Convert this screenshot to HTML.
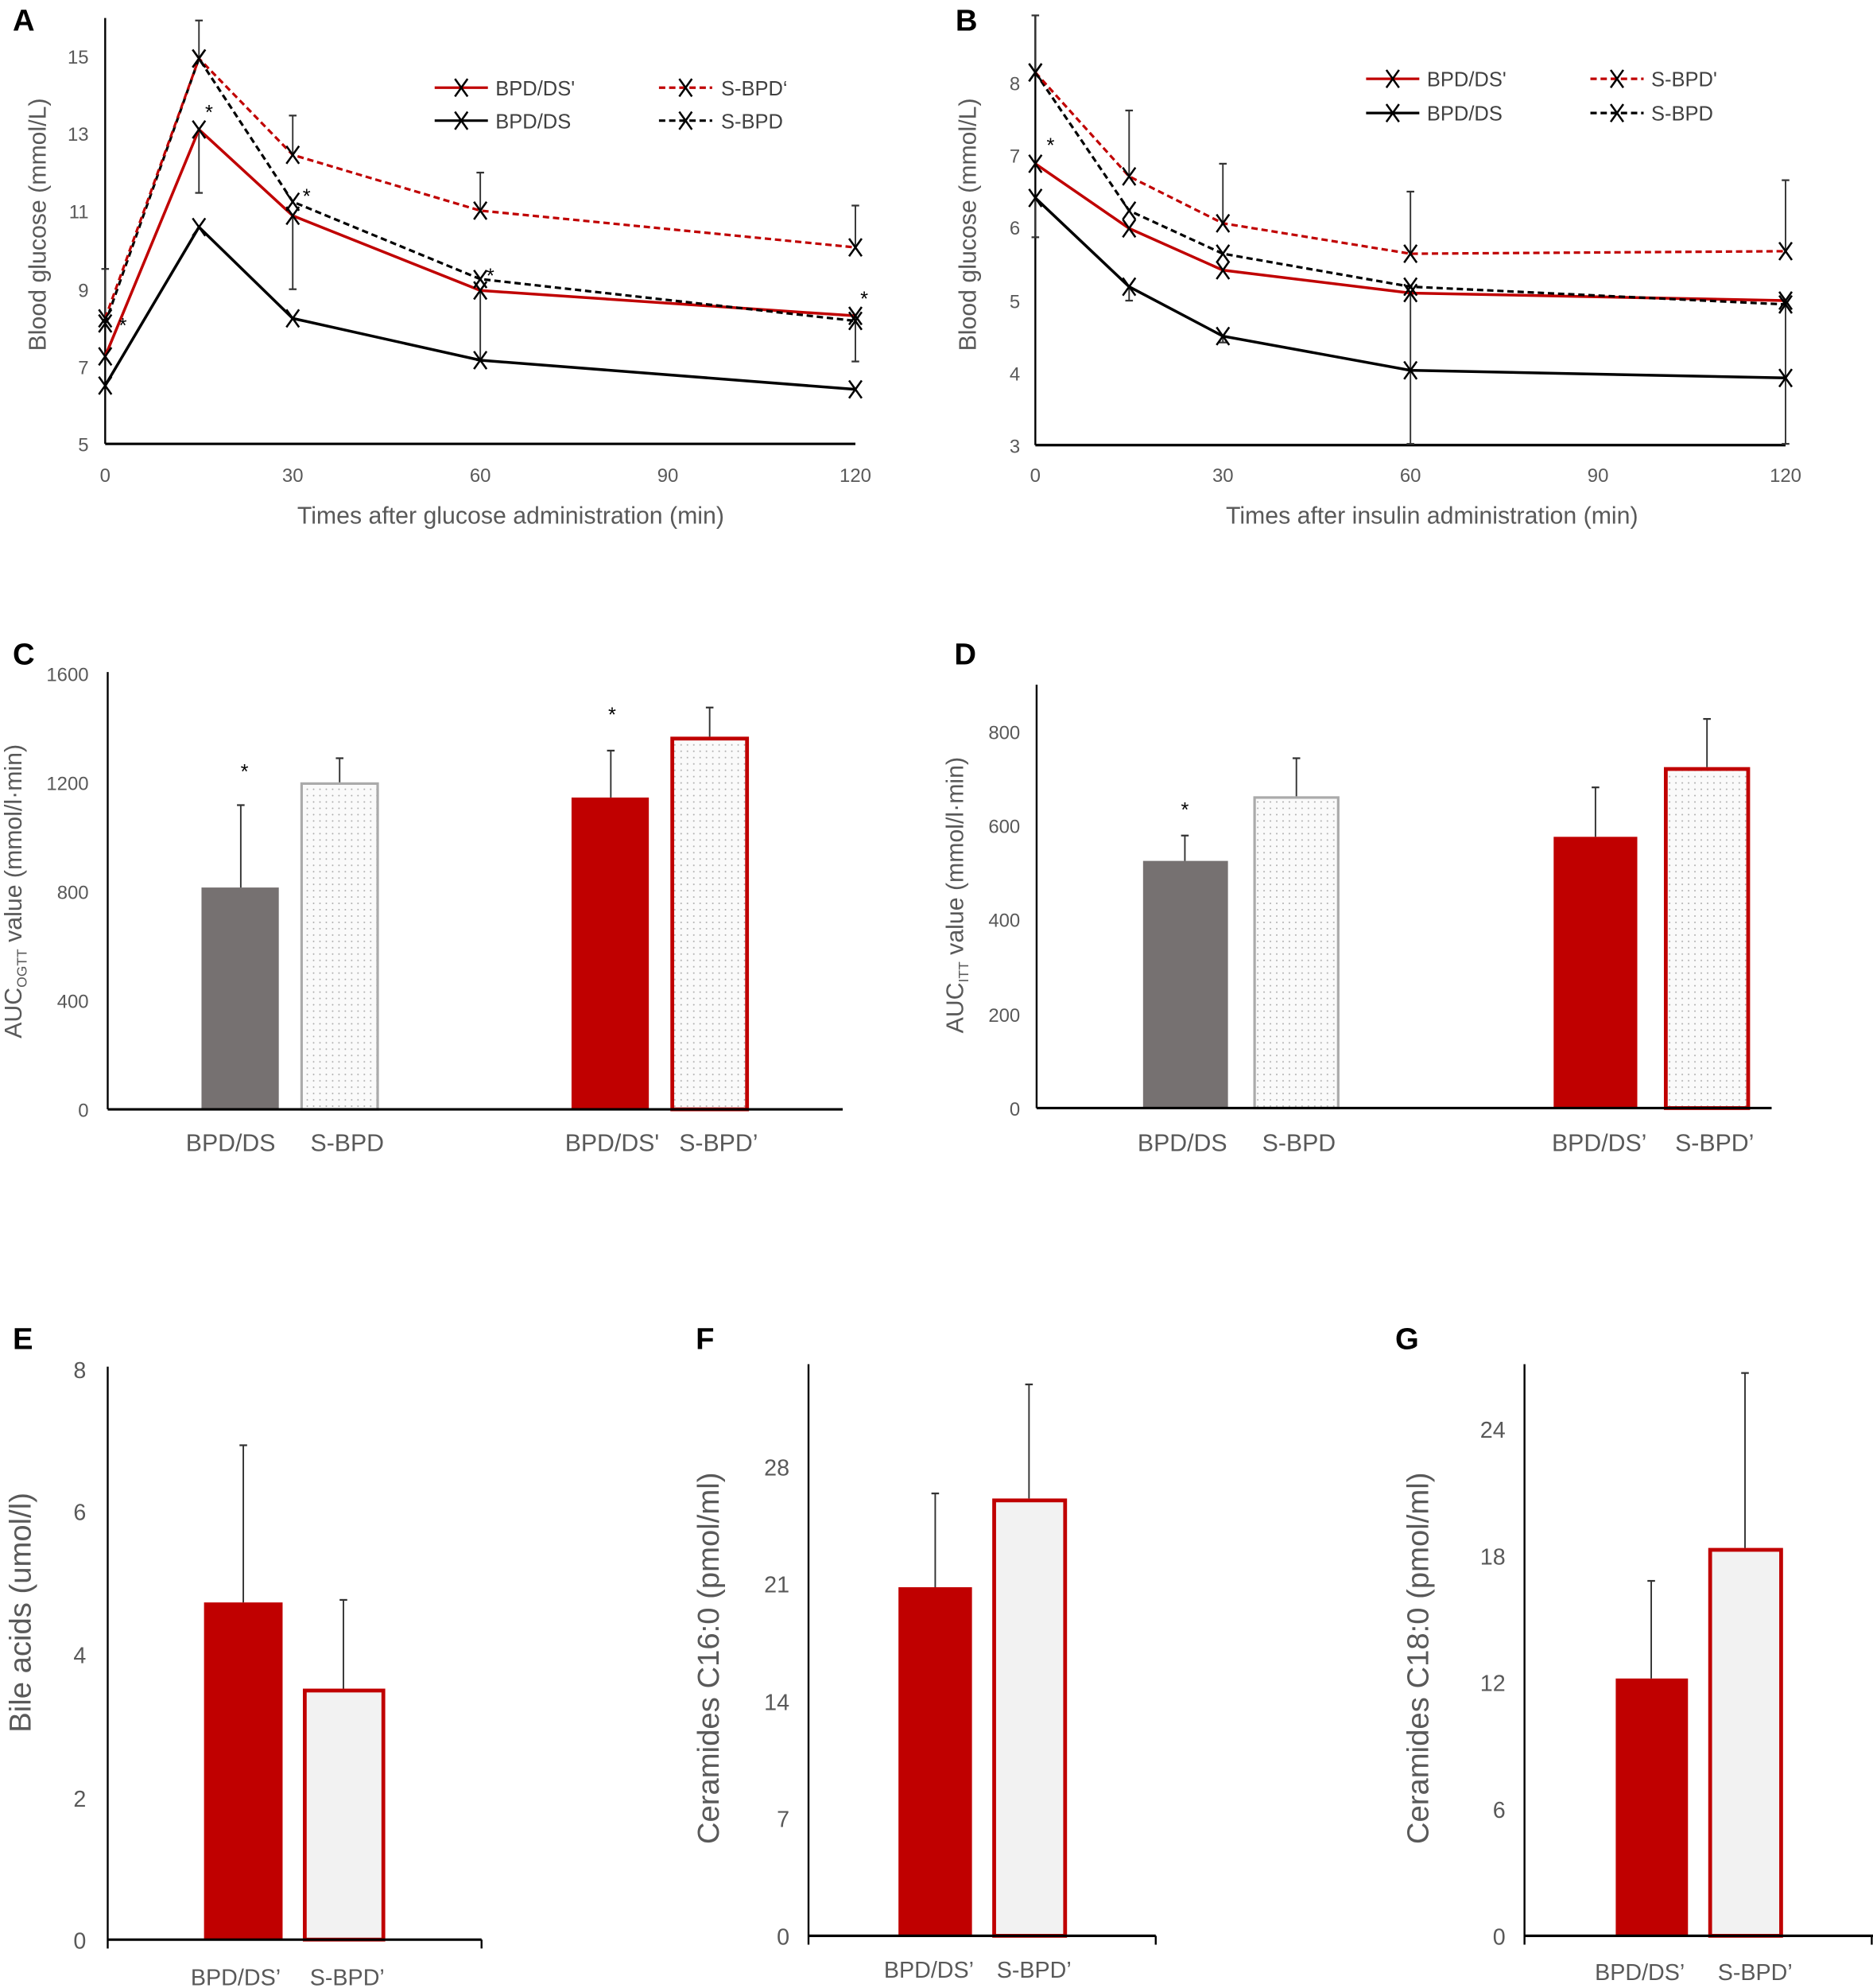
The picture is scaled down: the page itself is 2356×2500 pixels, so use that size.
<!DOCTYPE html>
<html><head><meta charset="utf-8"><style>
html,body{margin:0;padding:0;background:#fff;}
svg{display:block;}
text{font-family:"Liberation Sans",sans-serif;}
.tk{fill:#595959;font-size:15px;}
.tl{fill:#595959;font-size:19px;}
.pl{font-weight:bold;font-size:24px;fill:#000;}
.lg{fill:#404040;font-size:16px;}
</style></head><body>
<svg id="s" width="2356" height="2500" viewBox="0 0 1478 1568" xmlns="http://www.w3.org/2000/svg">
<defs>
<pattern id="dots" width="5" height="5" patternUnits="userSpaceOnUse">
<rect width="5" height="5" fill="#fafafa"/><circle cx="2.5" cy="2.5" r="0.6" fill="#aaa"/>
</pattern>
</defs>
<!-- Panel labels -->
<text class="pl" x="10" y="24">A</text>
<text class="pl" x="754" y="24">B</text>
<text class="pl" x="10" y="524">C</text>
<text class="pl" x="753" y="524">D</text>
<text class="pl" x="10" y="1064">E</text>
<text class="pl" x="549" y="1064">F</text>
<text class="pl" x="1101" y="1064">G</text>
<g id="g"></g>
</svg>
<script>
const g=document.getElementById('g');let h='';
function L(x1,y1,x2,y2,c,w,d){h+=`<line x1="${x1}" y1="${y1}" x2="${x2}" y2="${y2}" stroke="${c||'#000'}" stroke-width="${w||1.5}" ${d?`stroke-dasharray="${d}"`:''}/>`;}
function T(x,y,t,cls,anc,extra){h+=`<text class="${cls}" x="${x}" y="${y}" text-anchor="${anc||'middle'}" ${extra||''}>${t}</text>`;}
function X(x,y){h+=`<path d="M${x-5} ${y-7}L${x+5} ${y+7}M${x-5} ${y+7}L${x+5} ${y-7}" stroke="#000" stroke-width="1.6" fill="none"/>`;}
function EB(x,y1,y2){L(x,y1,x,y2,'#333',1.2);L(x-3,y2,x+3,y2,'#333',1.4);}
function line(xs,ys,c,d){let p=xs.map((x,i)=>x+','+ys[i]).join(' ');h+=`<polyline points="${p}" fill="none" stroke="${c}" stroke-width="${d?2:2.2}" ${d?'stroke-dasharray="5,3"':''}/>`;xs.forEach((x,i)=>X(x,ys[i]));}
// ---------- Panel A ----------
{const x0=83,sx=592/120,xs=[0,15,30,60,120].map(t=>x0+t*sx);
L(83,14,83,350,'#000',1.5);L(83,350,675,350,'#000',2);
[[15,44],[13,105],[11,166],[9,228],[7,289],[5,350]].forEach(([v,y])=>T(70,y+6,v,'tk','end'));
[0,30,60,90,120].forEach(t=>T(x0+t*sx,380,t,'tk'));
T(403,413,'Times after glucose administration (min)','tl');
T(36,177,'Blood glucose (mmol/L)','tl','middle','transform="rotate(-90 36 177)"');
EB(xs[0],254,212);EB(xs[1],46,16);EB(xs[1],102,152);EB(xs[2],122,91);EB(xs[2],170,228);EB(xs[3],166,136);EB(xs[3],229,284);EB(xs[4],195,162);EB(xs[4],249,285);
line(xs,[304,179,251,284,307],'#000');
line(xs,[281,102,170,229,249],'#c00000');
line(xs,[255,46,159,220,253],'#000',1);
line(xs,[251,46,122,166,195],'#c00000',1);
[[165,94],[242,160],[387,223],[682,241],[97,262]].forEach(([x,y])=>T(x,y,'*','tk','middle','style="fill:#000;font-size:16px"'));
L(343,69,385,69,'#c00000',2);X(364,69);T(391,75,"BPD/DS'",'lg','start');
L(343,95,385,95,'#000',2);X(364,95);T(391,101,'BPD/DS','lg','start');
L(520,69,562,69,'#c00000',2,'5,3');X(541,69);T(569,75,'S-BPD‘','lg','start');
L(520,95,562,95,'#000',2,'5,3');X(541,95);T(569,101,'S-BPD','lg','start');}
// ---------- Panel B ----------
{const x0=817,sx=592/120,xs=[0,15,30,60,120].map(t=>x0+t*sx);
L(817,12,817,351,'#000',1.5);L(817,351,1409,351,'#000',2);
[[8,65],[7,122],[6,179],[5,237],[4,294],[3,351]].forEach(([v,y])=>T(805,y+6,v,'tk','end'));
[0,30,60,90,120].forEach(t=>T(x0+t*sx,380,t,'tk'));
T(1130,413,'Times after insulin administration (min)','tl');
T(770,177,'Blood glucose (mmol/L)','tl','middle','transform="rotate(-90 770 177)"');
EB(xs[0],57,12);EB(xs[0],156,187);EB(xs[1],139,87);EB(xs[1],226,237);EB(xs[2],176,129);EB(xs[2],265,270);EB(xs[3],200,151);EB(xs[3],231,350);EB(xs[4],198,142);EB(xs[4],237,350);
line(xs,[156,226,265,292,298],'#000');
line(xs,[129,180,213,231,237],'#c00000');
line(xs,[57,166,200,226,240],'#000',1);
line(xs,[57,139,176,200,198],'#c00000',1);
T(829,120,'*','tk','middle','style="fill:#000;font-size:16px"');
L(1078,62,1120,62,'#c00000',2);X(1099,62);T(1126,68,"BPD/DS'",'lg','start');
L(1078,89,1120,89,'#000',2);X(1099,89);T(1126,95,'BPD/DS','lg','start');
L(1255,62,1297,62,'#c00000',2,'5,3');X(1276,62);T(1303,68,"S-BPD'",'lg','start');
L(1255,89,1297,89,'#000',2,'5,3');X(1276,89);T(1303,95,'S-BPD','lg','start');}
// ---------- bar helpers ----------
function bar(x1,x2,top,base,type){
 if(type=='gray')h+=`<rect x="${x1}" y="${top}" width="${x2-x1}" height="${base-top}" fill="#767171"/>`;
 else if(type=='red')h+=`<rect x="${x1}" y="${top}" width="${x2-x1}" height="${base-top}" fill="#c00000"/>`;
 else if(type=='dotg')h+=`<rect x="${x1+1}" y="${top+1}" width="${x2-x1-2}" height="${base-top-1}" fill="url(#dots)" stroke="#aaa" stroke-width="2"/>`;
 else if(type=='dotr')h+=`<rect x="${x1+1.5}" y="${top+1.5}" width="${x2-x1-3}" height="${base-top-1.5}" fill="url(#dots)" stroke="#c00000" stroke-width="3"/>`;
 else if(type=='whr')h+=`<rect x="${x1+1.5}" y="${top+1.5}" width="${x2-x1-3}" height="${base-top-1.5}" fill="#f2f2f2" stroke="#c00000" stroke-width="3"/>`;
}
function err(x,top,e){L(x,top,x,e,'#333',1.2);L(x-3,e,x+3,e,'#333',1.4);}
// ---------- Panel C ----------
L(85,530,85,875,'#000',1.5);
[[1600,531],[1200,617],[800,703],[400,789],[0,875]].forEach(([v,y])=>T(70,y+6,v,'tk','end'));
bar(159,220,700,875,'gray');err(190,700,635);
bar(237,299,617,875,'dotg');err(268,617,598);
bar(451,512,629,875,'red');err(482,629,592);
bar(529,591,581,875,'dotr');err(560,581,558);
L(85,875,665,875,'#000',2);
T(193,614,'*','tk','middle','style="fill:#000;font-size:16px"');T(483,569,'*','tk','middle','style="fill:#000;font-size:16px"');
T(182,908,'BPD/DS','tl');T(274,908,'S-BPD','tl');T(483,908,"BPD/DS'",'tl');T(567,908,'S-BPD’','tl');
h+=`<text class="tl" transform="translate(17,703) rotate(-90)" text-anchor="middle">AUC<tspan font-size="11" dy="4">OGTT</tspan><tspan dy="-4"> value (mmol/l·min)</tspan></text>`;
// ---------- Panel D ----------
L(818,540,818,874,'#000',1.5);
[[800,577],[600,651],[400,725],[200,800],[0,874]].forEach(([v,y])=>T(805,y+6,v,'tk','end'));
bar(902,969,679,874,'gray');err(935,679,659);
bar(989,1057,628,874,'dotg');err(1023,628,598);
bar(1226,1292,660,874,'red');err(1259,660,621);
bar(1313,1381,605,874,'dotr');err(1347,605,567);
L(818,874,1398,874,'#000',2);
T(935,644,'*','tk','middle','style="fill:#000;font-size:16px"');
T(933,908,'BPD/DS','tl');T(1025,908,'S-BPD','tl');T(1262,908,'BPD/DS’','tl');T(1353,908,'S-BPD’','tl');
h+=`<text class="tl" transform="translate(760,706) rotate(-90)" text-anchor="middle">AUC<tspan font-size="11" dy="4">ITT</tspan><tspan dy="-4"> value (mmol/l·min)</tspan></text>`;
// ---------- Panel E ----------
L(85,1078,85,1537,'#000',1.5);
[[8,1080],[6,1192],[4,1305],[2,1418],[0,1530]].forEach(([v,y])=>T(68,y+7,v,'tk','end','style="font-size:18px"'));
bar(161,223,1264,1530,'red');err(192,1264,1140);
bar(239,304,1332,1530,'whr');err(271,1332,1262);
L(85,1530,380,1530,'#000',2);L(380,1530,380,1537,'#000',1.5);
T(186,1566,'BPD/DS’','tl','middle','style="font-size:18px"');T(274,1566,'S-BPD’','tl','middle','style="font-size:18px"');
T(24,1272,'Bile acids (umol/l)','tl','middle','transform="rotate(-90 24 1272)" style="font-size:24px"');
// ---------- Panel F ----------
L(638,1076,638,1534,'#000',1.5);
[[28,1157],[21,1249],[14,1342],[7,1434],[0,1527]].forEach(([v,y])=>T(623,y+7,v,'tk','end','style="font-size:18px"'));
bar(709,767,1252,1527,'red');err(738,1252,1178);
bar(783,842,1182,1527,'whr');err(812,1182,1092);
L(638,1527,912,1527,'#000',2);L(912,1527,912,1534,'#000',1.5);
T(733,1560,'BPD/DS’','tl','middle','style="font-size:18px"');T(816,1560,'S-BPD’','tl','middle','style="font-size:18px"');
T(567,1308,'Ceramides C16:0 (pmol/ml)','tl','middle','transform="rotate(-90 567 1308)" style="font-size:24px"');
// ---------- Panel G ----------
L(1203,1076,1203,1534,'#000',1.5);
[[24,1127],[18,1227],[12,1327],[6,1427],[0,1527]].forEach(([v,y])=>T(1188,y+7,v,'tk','end','style="font-size:18px"'));
bar(1275,1332,1324,1527,'red');err(1303,1324,1247);
bar(1348,1407,1221,1527,'whr');err(1377,1221,1083);
L(1203,1527,1478,1527,'#000',2);L(1477,1527,1477,1534,'#000',1.5);
T(1294,1562,'BPD/DS’','tl','middle','style="font-size:18px"');T(1385,1562,'S-BPD’','tl','middle','style="font-size:18px"');
T(1127,1308,'Ceramides C18:0 (pmol/ml)','tl','middle','transform="rotate(-90 1127 1308)" style="font-size:24px"');
g.innerHTML=h;
</script>
</body></html>
